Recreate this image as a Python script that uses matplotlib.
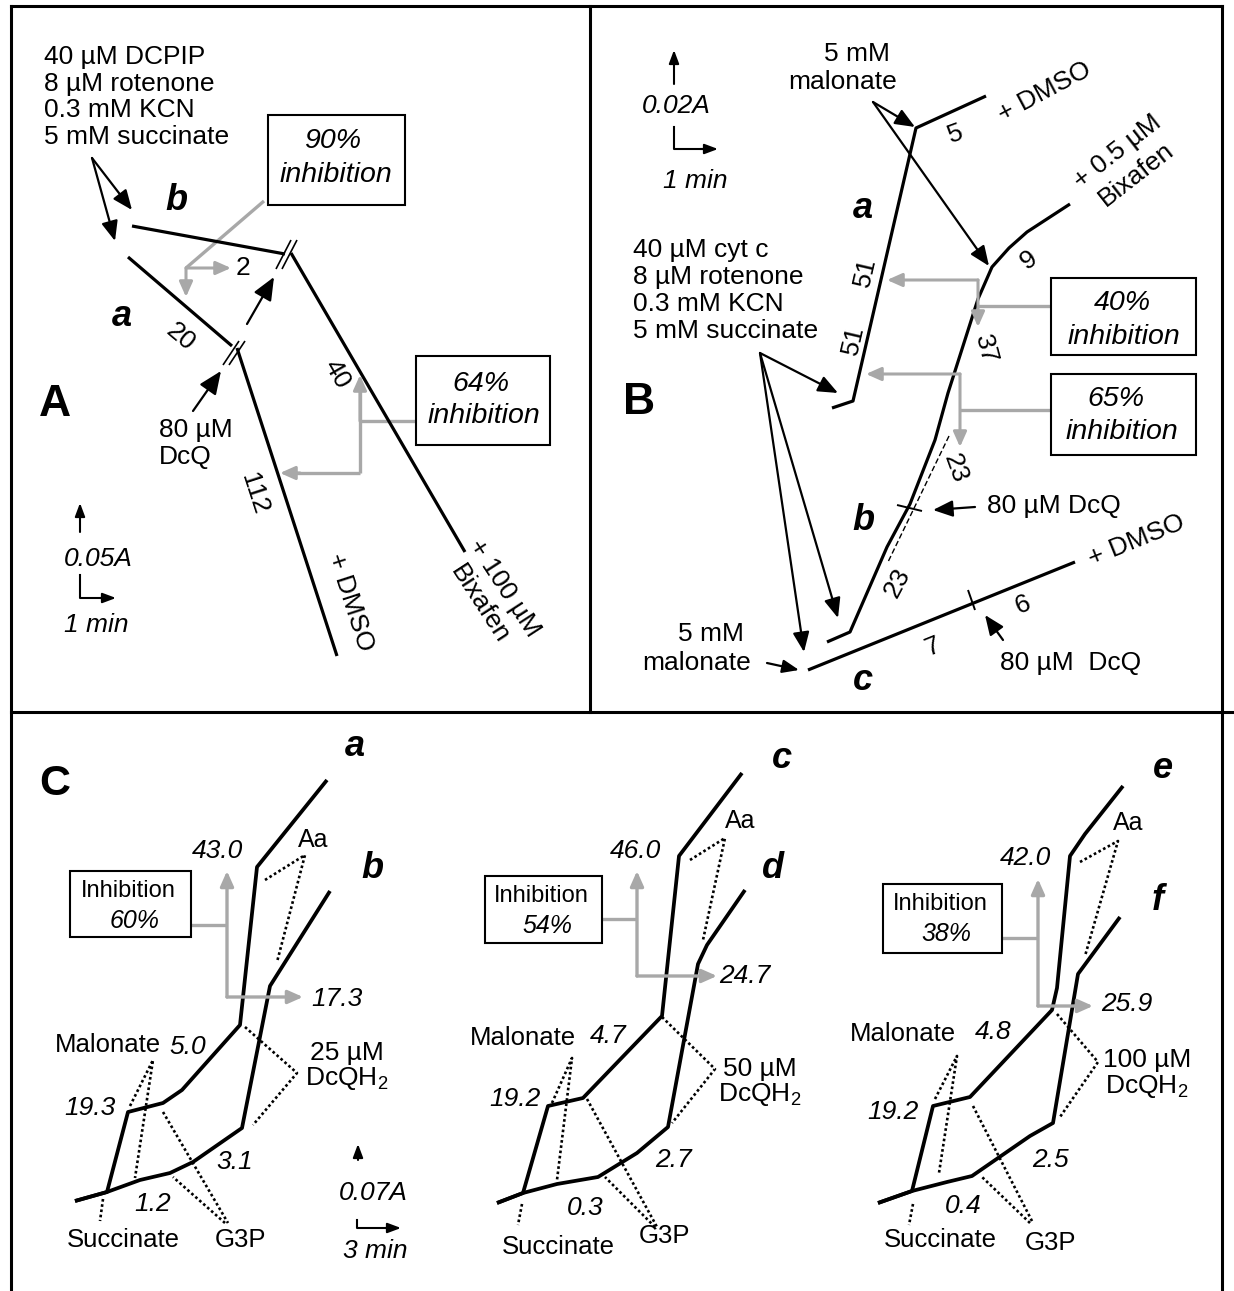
import matplotlib
matplotlib.use('Agg')
import matplotlib.pyplot as plt
from matplotlib.patches import Rectangle

plt.rcParams['font.family'] = ['Liberation Sans', 'DejaVu Sans']

GRAY = '#a8a8a8'
FS = 19

# --- panel A: DCPIP reduction traces (drawing units = pixels) ---
A_b1_x = [132, 285]
A_b1_y = [226, 254]
A_b2_x = [291, 465]
A_b2_y = [253, 552]
A_a1_x = [128, 232]
A_a1_y = [257, 346]
A_a2_x = [237, 337]
A_a2_y = [348, 656]

# --- panel B: cytochrome c traces ---
B_a_x = [832, 853, 916, 986]
B_a_y = [408, 401, 128, 96]
B_b_x = [827, 850, 887, 910, 935, 948, 978, 992, 1009, 1027, 1070]
B_b_y = [642, 632, 547, 504, 440, 393, 299, 267, 248, 232, 204]
B_c_x = [808, 1075]
B_c_y = [670, 562]
B_fit_x = [949, 888]
B_fit_y = [436, 562]

# --- panel C: three pairs of traces ---
C_a_x = [75, 107, 128, 163, 182, 240, 257, 327]
C_a_y = [1201, 1192, 1112, 1103, 1090, 1025, 867, 780]
C_b_x = [75, 107, 140, 170, 193, 242, 270, 330]
C_b_y = [1201, 1192, 1180, 1173, 1162, 1128, 986, 891]
C_c_x = [497, 523, 548, 583, 662, 679, 742]
C_c_y = [1203, 1193, 1106, 1098, 1016, 856, 773]
C_d_x = [497, 523, 557, 598, 637, 668, 698, 707, 745]
C_d_y = [1203, 1193, 1184, 1177, 1153, 1127, 964, 945, 890]
C_e_x = [878, 912, 933, 970, 1052, 1057, 1070, 1085, 1123]
C_e_y = [1203, 1191, 1106, 1097, 1010, 988, 856, 834, 786]
C_f_x = [878, 912, 947, 972, 1030, 1053, 1078, 1120]
C_f_y = [1203, 1191, 1182, 1176, 1136, 1123, 974, 917]

C_rates = [('43.0', '17.3', '19.3', '5.0', '1.2', '3.1', '60%', '25 µM'),
           ('46.0', '24.7', '19.2', '4.7', '0.3', '2.7', '54%', '50 µM'),
           ('42.0', '25.9', '19.2', '4.8', '0.4', '2.5', '38%', '100 µM')]

fig = plt.figure(figsize=(12.34, 12.91), dpi=100)
ax = fig.add_axes([0, 0, 1, 1])
ax.set_xlim(0, 1234)
ax.set_ylim(1291, 0)
ax.axis('off')


def trace(xs, ys, lw=2.3):
    ax.plot(xs, ys, color='black', lw=lw, solid_joinstyle='round', solid_capstyle='butt', zorder=3)


def dotted(xs, ys):
    ax.plot(xs, ys, color='black', lw=1.9, ls=(0, (1, 1)), zorder=2)


def seg(xs, ys, color='black', lw=1.4, **kw):
    ax.plot(xs, ys, color=color, lw=lw, solid_capstyle='butt', zorder=2, **kw)


def arrow(tail, tip, color='black', lw=1.6, hl=11, hw=4.5):
    ax.annotate('', xy=tip, xytext=tail,
                arrowprops=dict(arrowstyle=f'-|>,head_length={hl},head_width={hw}',
                                color=color, lw=lw, shrinkA=0, shrinkB=0,
                                mutation_scale=1), zorder=4)


def txt(x, y, s, size=FS, rot=0, style='normal', weight='normal', ha='center', **kw):
    ax.text(x, y, s, fontsize=size, rotation=rot, style=style, weight=weight,
            ha=ha, va='center', rotation_mode='anchor', zorder=5, **kw)


def box(x0, y0, x1, y1):
    ax.add_patch(Rectangle((x0, y0), x1 - x0, y1 - y0, fill=False, ec='black', lw=1.5, zorder=4))


# panel frames
fl = dict(color='black', lw=2.2, solid_capstyle='projecting')
ax.plot([11, 11], [6, 1291], **fl)
ax.plot([1222, 1222], [6, 1291], **fl)
ax.plot([11, 1222], [6, 6], **fl)
ax.plot([590, 590], [6, 712], **fl)
ax.plot([11, 1234], [712, 712], **fl)

# ================= A =================
trace(A_b1_x, A_b1_y)
trace(A_b2_x, A_b2_y)
trace(A_a1_x, A_a1_y)
trace(A_a2_x, A_a2_y)
for dx in (-3, 3):
    seg([279 + dx, 294 + dx], [269, 240], lw=1.2)
    seg([226 + dx, 242 + dx], [365, 341], lw=1.2)

for i, s in enumerate(['40 µM DCPIP', '8 µM rotenone', '0.3 mM KCN', '5 mM succinate']):
    txt(44, 57 + i * 26.5, s, ha='left')
arrow((92, 158), (132, 210), hl=12, hw=5)
arrow((92, 158), (115, 241), hl=12, hw=5)
txt(176, 201, 'b', size=26, style='italic', weight='bold')
txt(122, 317, 'a', size=26, style='italic', weight='bold')
txt(180, 337, '20', rot=-40)
txt(337, 374, '40', rot=-60)
txt(254, 494, '112', rot=-72)
txt(350, 602, '+ DMSO', rot=-72)
txt(492, 596, '+ 100 µM\nBixafen', rot=-57, linespacing=1.3)
arrow((193, 411), (221, 371), hl=14, hw=6)
arrow((247, 324), (274, 277), hl=14, hw=6)
txt(159, 430, '80 µM', ha='left')
txt(159, 457, 'DcQ', ha='left')
txt(55, 405, 'A', size=32, weight='bold')

arrow((80, 532), (80, 503), lw=1.5, hl=8, hw=3)
txt(98, 559, '0.05A', style='italic')
ax.plot([80, 80, 110], [575, 598, 598], color='black', lw=1.5)
arrow((100, 598), (116, 598), lw=1.5, hl=8, hw=3)
txt(96, 625, '1 min', style='italic')

box(268, 115, 405, 205)
txt(333, 141, '90%', size=20.5, style='italic')
txt(336, 175, 'inhibition', size=20.5, style='italic')
seg([264, 186], [201, 268], color=GRAY, lw=2.4)
arrow((186, 268), (231, 268), color=GRAY, lw=2.2, hl=9, hw=4)
arrow((186, 268), (186, 297), color=GRAY, lw=2.2, hl=9, hw=4)
txt(243, 268, '2')

box(416, 356, 550, 445)
txt(481, 384, '64%', size=20.5, style='italic')
txt(484, 416, 'inhibition', size=20.5, style='italic')
seg([416, 360], [421, 421], color=GRAY, lw=2.4)
seg([360, 360], [473, 390], color=GRAY, lw=2.4)
arrow((360, 421), (360, 375), color=GRAY, lw=2.2, hl=9, hw=4)
seg([360, 295], [473, 473], color=GRAY, lw=2.4)
arrow((300, 473), (280, 473), color=GRAY, lw=2.2, hl=9, hw=4)

# ================= B =================
trace(B_a_x, B_a_y)
trace(B_b_x, B_b_y)
trace(B_c_x, B_c_y)
seg(B_fit_x, B_fit_y, lw=1.0, ls=(0, (4, 2)))
seg([897, 922], [505, 511], lw=1.4)
seg([968, 975], [590, 610], lw=1.4)

arrow((674, 84), (674, 50), lw=1.5, hl=8, hw=3)
txt(676, 106, '0.02A', style='italic')
ax.plot([674, 674, 710], [127, 149, 149], color='black', lw=1.5)
arrow((700, 149), (718, 149), lw=1.5, hl=8, hw=3)
txt(695, 181, '1 min', style='italic')

txt(857, 54, '5 mM')
txt(843, 82, 'malonate')
arrow((873, 102), (915, 127), hl=12, hw=5)
arrow((873, 102), (989, 266), hl=12, hw=5)
txt(1045, 92, '+ DMSO', rot=28)
txt(955, 134, '5', rot=20)
txt(1127, 163, '+ 0.5 µM\nBixafen', rot=38, linespacing=1.3)
txt(1029, 260, '9', rot=35)
txt(863, 208, 'a', size=26, style='italic', weight='bold')
txt(863, 521, 'b', size=26, style='italic', weight='bold')
txt(863, 681, 'c', size=26, style='italic', weight='bold')
txt(865, 272, '51', rot=77)
txt(853, 340, '51', rot=77)
txt(986, 349, '37', rot=-75)
txt(955, 468, '23', rot=-70)
txt(897, 583, '23', rot=62)

for i, s in enumerate(['40 µM cyt c', '8 µM rotenone', '0.3 mM KCN', '5 mM succinate']):
    txt(633, 250 + i * 27, s, ha='left')
arrow((760, 353), (838, 393), hl=12, hw=5)
arrow((760, 353), (838, 618), hl=12, hw=5)
arrow((760, 353), (804, 652), hl=12, hw=5)
txt(639, 403, 'B', size=32, weight='bold')

arrow((975, 507), (933, 510), hl=12, hw=5)
txt(987, 506, '80 µM DcQ', ha='left')
txt(933, 647, '7', rot=22)
txt(1023, 605, '6', rot=22)
txt(1136, 540, '+ DMSO', rot=22)
arrow((1003, 640), (985, 615), hl=12, hw=5)
txt(1071, 663, '80 µM  DcQ')
txt(711, 634, '5 mM')
txt(697, 663, 'malonate')
arrow((767, 663), (799, 670), hl=10, hw=4)

box(1051, 278, 1196, 355)
txt(1122, 303, '40%', size=20.5, style='italic')
txt(1124, 337, 'inhibition', size=20.5, style='italic')
seg([1051, 978], [306, 306], color=GRAY, lw=2.4)
arrow((978, 280), (978, 327), color=GRAY, lw=2.2, hl=9, hw=4)
arrow((978, 280), (887, 280), color=GRAY, lw=2.2, hl=9, hw=4)

box(1051, 374, 1196, 455)
txt(1116, 399, '65%', size=20.5, style='italic')
txt(1122, 432, 'inhibition', size=20.5, style='italic')
seg([1051, 960], [410, 410], color=GRAY, lw=2.4)
arrow((960, 374), (960, 447), color=GRAY, lw=2.2, hl=9, hw=4)
arrow((960, 374), (866, 374), color=GRAY, lw=2.2, hl=9, hw=4)

# ================= C =================
txt(55, 784, 'C', size=31, weight='bold')

subpanels = [
    dict(top=(C_a_x, C_a_y), low=(C_b_x, C_b_y), names=('a', 'b'),
         name_pos=((355, 747), (372, 869)), aa=([265, 305, 277], [880, 855, 962]),
         dq=([245, 297, 253], [1027, 1073, 1125]),
         mal=([130, 153, 135], [1106, 1060, 1178]),
         g3p=([163, 228, 225, 173], [1112, 1223, 1223, 1177]),
         suc=([103, 100], [1199, 1221]),
         box=(70, 871, 191, 937), stem=(191, 227, 925), vert=(227, 997, 871), hor=303,
         pos=dict(aa=(313, 840), top=(217, 851), low=(337, 999), mal=(108, 1045),
                  r1=(90, 1108), r2=(188, 1047), r3=(153, 1204), r4=(235, 1162),
                  suc=(123, 1240), g3p=(240, 1240), dq=(347, 1053))),
    dict(top=(C_c_x, C_c_y), low=(C_d_x, C_d_y), names=('c', 'd'),
         name_pos=((782, 758), (773, 869)), aa=([690, 725, 703], [860, 838, 940]),
         dq=([662, 715, 672], [1017, 1069, 1123]),
         mal=([552, 572, 557], [1103, 1058, 1180]),
         g3p=([587, 657, 655, 605], [1099, 1227, 1227, 1177]),
         suc=([522, 518], [1204, 1225]),
         box=(485, 876, 602, 943), stem=(602, 637, 919), vert=(637, 976, 871), hor=717,
         pos=dict(aa=(740, 821), top=(635, 851), low=(745, 976), mal=(523, 1038),
                  r1=(515, 1099), r2=(608, 1036), r3=(585, 1208), r4=(673, 1160),
                  suc=(558, 1247), g3p=(665, 1236), dq=(760, 1069))),
    dict(top=(C_e_x, C_e_y), low=(C_f_x, C_f_y), names=('e', 'f'),
         name_pos=((1163, 769), (1158, 901)), aa=([1080, 1118, 1085], [862, 841, 956]),
         dq=([1057, 1098, 1060], [1014, 1062, 1117]),
         mal=([935, 957, 939], [1099, 1056, 1173]),
         g3p=([973, 1033, 1030, 982], [1106, 1223, 1223, 1177]),
         suc=([913, 909], [1204, 1225]),
         box=(883, 884, 1002, 953), stem=(1002, 1038, 938), vert=(1038, 1006, 879), hor=1093,
         pos=dict(aa=(1128, 823), top=(1025, 858), low=(1127, 1004), mal=(903, 1034),
                  r1=(893, 1112), r2=(993, 1032), r3=(963, 1206), r4=(1050, 1160),
                  suc=(940, 1240), g3p=(1050, 1243), dq=(1147, 1060))),
]

for sp, rates in zip(subpanels, C_rates):
    trace(*sp['top'], lw=2.7)
    trace(*sp['low'], lw=2.7)
    dotted(*sp['aa'])
    dotted(*sp['dq'])
    dotted(*sp['mal'])
    dotted(sp['g3p'][0][:2], sp['g3p'][1][:2])
    dotted(sp['g3p'][0][2:], sp['g3p'][1][2:])
    dotted(*sp['suc'])
    for nm, (x, y) in zip(sp['names'], sp['name_pos']):
        txt(x, y, nm, size=26, style='italic', weight='bold')
    p = sp['pos']
    t_top, t_low, t_r1, t_r2, t_r3, t_r4, t_inh, t_dq = rates
    txt(*p['aa'], 'Aa', size=18)
    txt(*p['top'], t_top, style='italic')
    txt(*p['low'], t_low, style='italic')
    txt(*p['mal'], 'Malonate', size=18.5)
    txt(*p['r1'], t_r1, style='italic')
    txt(*p['r2'], t_r2, style='italic')
    txt(*p['r3'], t_r3, style='italic')
    txt(*p['r4'], t_r4, style='italic')
    txt(*p['suc'], 'Succinate', size=18.5)
    txt(*p['g3p'], 'G3P', size=18.5)
    dx, dy = p['dq']
    txt(dx, dy, t_dq)
    txt(dx, dy + 26, r'DcQH$_\mathregular{2}$')

    x0, y0, x1, y1 = sp['box']
    box(x0, y0, x1, y1)
    txt((x0 + x1) / 2 - 2, y0 + 20, 'Inhibition', size=17)
    txt((x0 + x1) / 2 + 4, y0 + 50, t_inh, size=18, style='italic')
    sx0, sx1, sy = sp['stem']
    seg([sx0, sx1], [sy, sy], color=GRAY, lw=2.4)
    vx, vy0, vy1 = sp['vert']
    arrow((vx, vy0), (vx, vy1), color=GRAY, lw=2.4, hl=9, hw=4)
    arrow((vx, vy0), (sp['hor'], vy0), color=GRAY, lw=2.4, hl=9, hw=4)

arrow((358, 1160), (358, 1144), lw=1.5, hl=8, hw=3)
txt(373, 1193, '0.07A', style='italic')
ax.plot([357, 357, 392], [1220, 1228, 1228], color='black', lw=1.5)
arrow((385, 1228), (401, 1228), lw=1.5, hl=8, hw=3)
txt(375, 1251, '3 min', style='italic')

fig.savefig('out.png', dpi=100)
